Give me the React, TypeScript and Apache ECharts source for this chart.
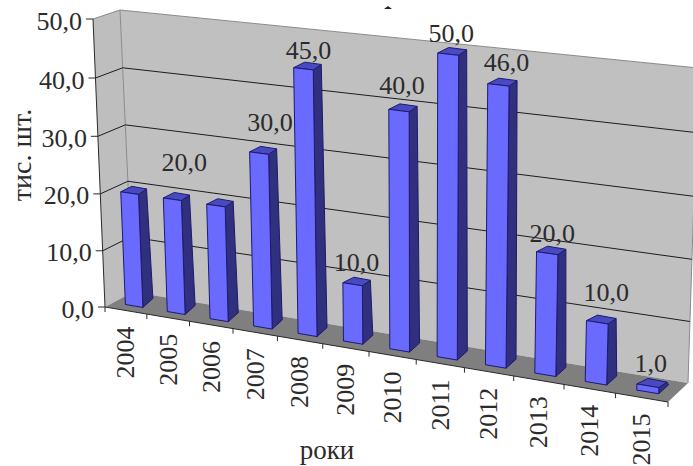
import React, { useEffect, useRef } from "react";
import * as echarts from "echarts";

// Production by year, thousands of pieces.
const years = ["2004", "2005", "2006", "2007", "2008", "2009", "2010", "2011", "2012", "2013", "2014", "2015"];
const values = [20, 20, 20, 30, 45, 10, 40, 50, 46, 20, 10, 1];
const labelled = [false, true, false, true, true, true, true, true, true, true, true, true];
const valueTicks = [0, 10, 20, 30, 40, 50];

const yAxisTitle = "тис. шт.";
const xAxisTitle = "роки";

// Where each value caption sits relative to the top of its column.
const labelOffsets: [number, number][] = [
  [0, 0], [12, -37], [0, 0], [11, -31], [5, -18], [4, -22],
  [3, -25], [3, -21], [8, -22], [5, -20], [9, -30], [3, -22],
];

// Flat plotting rectangle used by the hidden axes.
const GRID = { left: 60, top: 20, width: 600, height: 400 };

// Corners of the box: front plane and back wall, bottom and top.
const FRONT = { l0: [105, 307], l1: [93, 19], r0: [668, 402], r1: [678, 85] };
const BACK = { l0: [133, 292], l1: [120, 10], r0: [688, 383], r1: [698, 68] };
const X_PERSPECTIVE = 0.883;
const Y_PERSPECTIVE = 0.97;

const COLORS = {
  wall: "#c0c0c0",
  sideWall: "#bebebe",
  floor: "#7f7f7f",
  edge: "#8a8a8a",
  grid: "#1c1c1c",
  axis: "#2a2a2a",
  text: "#2b2b2b",
  front: "#6a6aff",
  side: "#30307e",
  top: "#4a4ac0",
  outline: "#1b1b70",
};
const FONT = "26px 'Liberation Serif', 'Times New Roman', serif";

const warp = (t: number, a: number) => (t * a) / (1 + (a - 1) * t);
const mix = (a: number[], b: number[], t: number) => [a[0] + (b[0] - a[0]) * t, a[1] + (b[1] - a[1]) * t];

// Turns a point of the flat grid, plus a depth from 0 (front) to 1 (back), into box coordinates.
function project(px: number, py: number, depth: number): number[] {
  const u = warp((px - GRID.left) / GRID.width, X_PERSPECTIVE);
  const v = warp((GRID.top + GRID.height - py) / GRID.height, Y_PERSPECTIVE);
  const plane = (c: typeof FRONT) => mix(mix(c.l0, c.r0, u), mix(c.l1, c.r1, u), v);
  return mix(plane(FRONT), plane(BACK), depth);
}

const polygon = (points: number[][], fill: string, stroke?: string) => ({
  type: "polygon",
  shape: { points },
  style: { fill, stroke: stroke ?? "none", lineWidth: stroke ? 1 : 0 },
});
const polyline = (points: number[][], stroke: string) => ({
  type: "polyline",
  shape: { points },
  style: { fill: "none", stroke, lineWidth: 1 },
});
const label = (text: string, x: number, y: number, align: string, rotation = 0) => ({
  type: "text",
  x,
  y,
  rotation,
  style: { text, x: 0, y: 0, align, verticalAlign: "middle", font: FONT, fill: COLORS.text },
});

// Walls, floor, gridlines, ticks and tick labels.
function renderFrame(_: any, api: any) {
  const band = api.size([1, 0])[0];
  const left = api.coord([0, 0])[0] - band / 2;
  const right = api.coord([years.length - 1, 0])[0] + band / 2;
  const yOf = (v: number) => api.coord([0, v])[1];
  const y0 = yOf(0);
  const y1 = yOf(valueTicks[valueTicks.length - 1]);

  const fl0 = project(left, y0, 0);
  const fl1 = project(left, y1, 0);
  const fr0 = project(right, y0, 0);
  const bl0 = project(left, y0, 1);
  const bl1 = project(left, y1, 1);
  const br0 = project(right, y0, 1);
  const br1 = project(right, y1, 1);

  const children: any[] = [
    polygon([fl0, fl1, bl1, bl0], COLORS.sideWall),
    polygon([bl0, bl1, br1, br0], COLORS.wall),
    polygon([fl0, bl0, br0, fr0], COLORS.floor),
    polyline([bl0, bl1], COLORS.edge),
    polyline([fl1, bl1, br1, br0], COLORS.edge),
  ];

  valueTicks.forEach((v) => {
    const p = project(left, yOf(v), 0);
    if (v > 0 && v < valueTicks[valueTicks.length - 1]) {
      children.push(polyline([p, project(left, yOf(v), 1), project(right, yOf(v), 1)], COLORS.grid));
    }
    children.push(polyline([[p[0] - 7, p[1]], p], COLORS.axis));
    children.push(label(v.toFixed(1).replace(".", ","), p[0] - 11, p[1] + 2, "right"));
  });

  children.push(polyline([fl1, fl0], COLORS.axis));
  children.push(polyline([fl0, fr0], COLORS.axis));

  for (let i = 0; i <= years.length; i++) {
    const p = project(left + band * i, y0, 0);
    children.push(polyline([p, [p[0], p[1] + 5]], COLORS.axis));
  }
  years.forEach((year, i) => {
    const p = project(left + band * (i + 0.5), y0, 0);
    children.push(label(year, p[0], p[1] + 16, "right", Math.PI / 2));
  });

  return { type: "group", children };
}

// One column: front, side and top faces.
function renderColumn(_: any, api: any) {
  const i = api.value(0);
  const v = api.value(1);
  const band = api.size([1, 0])[0];
  const cx = api.coord([i, v])[0];
  const top = api.coord([i, v])[1];
  const bottom = api.coord([i, 0])[1];
  const half = band * 0.21;
  const depth = 0.3;

  const fl0 = project(cx - half, bottom, depth);
  const fr0 = project(cx + half, bottom, depth);
  const fl1 = project(cx - half, top, depth);
  const fr1 = project(cx + half, top, depth);
  const br0 = [fr0[0] + 10, fr0[1] - 9];
  const br1 = [fr1[0] + 8, fr1[1] - 5.5];
  const bl1 = [fl1[0] + 11, fl1[1] - 5.5];

  return {
    type: "group",
    children: [
      polygon([fr0, br0, br1, fr1], COLORS.side, COLORS.outline),
      polygon([fl1, bl1, br1, fr1], COLORS.top, COLORS.outline),
      polygon([fl0, fl1, fr1, fr0], COLORS.front, COLORS.outline),
    ],
  };
}

// Value caption above a column.
function renderCaption(_: any, api: any) {
  const i = api.value(0);
  const v = api.value(1);
  if (!labelled[i]) return null;
  const c = api.coord([i, v]);
  const p = project(c[0], c[1], 0.3);
  const [dx, dy] = labelOffsets[i];
  return label(v.toFixed(1).replace(".", ","), p[0] + dx, p[1] + dy, "center");
}

export default function App() {
  const ref = useRef<HTMLDivElement>(null);

  useEffect(() => {
    const chart = echarts.init(ref.current!, null, { renderer: "svg" });
    const points = years.map((_, i) => [i, values[i]]);
    const encode = { x: 0, y: 1 };
    chart.setOption({
      animation: false,
      backgroundColor: "#ffffff",
      grid: { ...GRID },
      xAxis: { type: "category", data: years, show: false },
      yAxis: { type: "value", min: 0, max: 50, interval: 10, show: false },
      series: [
        { type: "custom", silent: true, data: [[0, 0]], encode, renderItem: renderFrame, z: 1 },
        { type: "custom", silent: true, data: points, encode, renderItem: renderColumn, z: 2 },
        { type: "custom", silent: true, data: points, encode, renderItem: renderCaption, z: 3 },
      ],
      graphic: [
        {
          type: "text",
          x: 21,
          y: 155,
          rotation: Math.PI / 2,
          style: { text: yAxisTitle, align: "center", verticalAlign: "middle", font: "28px 'Liberation Serif', serif", fill: COLORS.text },
        },
        {
          type: "text",
          x: 327,
          y: 450,
          style: { text: xAxisTitle, align: "center", verticalAlign: "middle", font: "27px 'Liberation Serif', serif", fill: COLORS.text },
        },
        // Small dark speck above the plot.
        { type: "polygon", shape: { points: [[384, 9], [388, 6], [392, 9]] }, style: { fill: "#222222" } },
      ],
    });
    return () => chart.dispose();
  }, []);

  return <div ref={ref} style={{ position: "absolute", left: 0, top: 0, width: 693, height: 466 }} />;
}
